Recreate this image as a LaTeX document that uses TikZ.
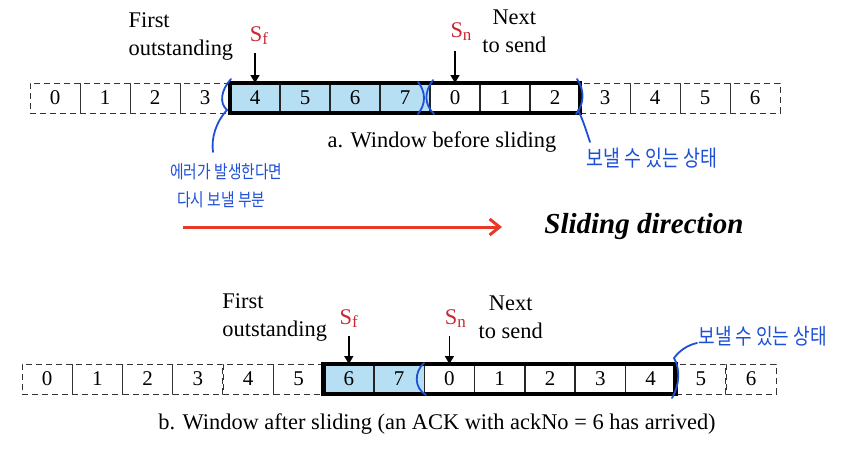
\documentclass[tikz,border=0pt]{standalone}
\usepackage{fontspec}
\setmainfont{Liberation Serif}
\newfontfamily\hanfont{Noto Sans CJK KR}
\usepackage{graphicx}
\usetikzlibrary{arrows.meta,positioning}
\definecolor{winblue}{RGB}{183,223,244}
\definecolor{inkblue}{RGB}{30,80,215}
\definecolor{seqred}{RGB}{200,40,50}
\definecolor{dirred}{RGB}{232,56,40}
\newcommand{\hw}[2]{{\hanfont\fontsize{#1}{#1}\selectfont\scalebox{0.82}[1]{#2}}}
\newcommand{\sq}[1]{S\raisebox{-0.35ex}{\fontsize{8.5}{8.5}\selectfont #1}}

\begin{document}
\begin{tikzpicture}[
  x=0.5pt, y=-0.5pt,
  font=\fontsize{11.2}{14}\selectfont,
  cell/.style={minimum width=25pt, minimum height=15pt, inner sep=0pt, outer sep=0pt,
    font=\fontsize{10.5}{12}\selectfont},
  idle/.style={cell, draw=black!80, dash pattern=on 3pt off 2pt, line width=0.5pt},
  ready/.style={cell, draw=black!85, line width=0.6pt},
  sent/.style={ready, fill=winblue},
  frame/.style={draw, line width=2.4pt},
  seq/.style={text=seqred, inner sep=1pt},
  lbl/.style={inner sep=0pt},
  ptr/.style={draw, line width=0.8pt, -{Triangle[length=4pt,width=4.5pt]}},
  ink/.style={draw=inkblue, line width=0.9pt, line cap=round},
  note/.style={text=inkblue, inner sep=0pt, anchor=west},
  dir/.style={draw=dirred, line width=1.5pt, -{Straight Barb[length=5pt,width=8pt]}},
]
\useasboundingbox (0,0) rectangle (850,451);

% a. before sliding
\foreach \i in {0,...,14}{
  \pgfmathtruncatemacro{\lab}{mod(\i,8)}
  \ifnum\i<4 \def\st{idle}\else\ifnum\i<8 \def\st{sent}\else
    \ifnum\i<11 \def\st{ready}\else\def\st{idle}\fi\fi\fi
  \node[\st] (t\i) at (55+50*\i,98) {\lab};
}
\draw[frame] (t4.north west) rectangle (t10.south east);

\node[seq, above=18pt of t4, xshift=2pt] (sfa) {\sq{f}};
\node[seq, above=20pt of t8, xshift=3pt] (sna) {\sq{n}};
\draw[ptr] (t4.north |- sfa.south) ++(0,6) -- (t4.north);
\draw[ptr] (t8.north |- sna.south) ++(0,8) -- (t8.north);
\node[lbl, align=left, left=7pt of sfa, yshift=-0.5pt] (fsta) {First\\outstanding};
\node[lbl, align=center, right=4pt of sna, yshift=0pt] (nxta) {Next\\to send};
\node[lbl] (capa) at (442,142) {a. Window before sliding};

% handwritten notes
\node[note] (err1) at (170,172) {\hw{9}{에러가 발생한다면}};
\node[note] (err2) at (177,200) {\hw{9}{다시 보낼 부분}};
\node[note] (oka) at (586,158) {\hw{11.2}{보낼 수 있는 상태}};
\draw[ink] (231,79) .. controls (221,90) and (219,103) .. (227,110)
  .. controls (216,122) and (211,138) .. (213,152);
\draw[ink] (418,82) .. controls (426,92) and (426,104) .. (418,114);
\draw[ink] (433,80) .. controls (424,92) and (424,104) .. (434,114);
\draw[ink] (577,79) .. controls (585,90) and (584,105) .. (576,114);
\draw[ink] (578,110) .. controls (583,120) and (586,130) .. (590,142);

% sliding direction
\coordinate (dirs) at (183,227);
\coordinate (dire) at (502,227);
\draw[dir] (dirs) -- (dire);
\node[lbl, right=21pt of dire, font=\fontsize{14.5}{16}\selectfont\bfseries\itshape] (dirl) {Sliding direction};

% b. after sliding
\foreach \i in {0,...,14}{
  \pgfmathtruncatemacro{\lab}{mod(\i,8)}
  \ifnum\i<6 \def\st{idle}\else\ifnum\i<8 \def\st{sent}\else
    \ifnum\i<13 \def\st{ready}\else\def\st{idle}\fi\fi\fi
  \node[\st] (b\i) at (47+50.3*\i,379) {\lab};
}
\draw[frame] (b6.north west) rectangle (b12.south east);

\node[seq, above=17pt of b6] (sfb) {\sq{f}};
\node[seq, above=17pt of b8, xshift=3pt] (snb) {\sq{n}};
\draw[ptr] (b6.north |- sfb.south) ++(0,6) -- (b6.north);
\draw[ptr] (b8.north |- snb.south) ++(0,6) -- (b8.north);
\node[lbl, align=left, left=5pt of sfb, yshift=0.5pt] (fstb) {First\\outstanding};
\node[lbl, align=center, right=5pt of snb, yshift=0.5pt] (nxtb) {Next\\to send};
\node[lbl] (capb) at (437,424) {b. Window after sliding (an ACK with ackNo = 6 has arrived)};

\node[note] (okb) at (698,336) {\hw{11}{보낼 수 있는 상태}};
\draw[ink] (424,363) .. controls (414,372) and (414,388) .. (426,395);
\draw[ink] (672,398) .. controls (680,385) and (680,368) .. (674,358)
  .. controls (680,350) and (688,345) .. (697,343);
\end{tikzpicture}
\end{document}
